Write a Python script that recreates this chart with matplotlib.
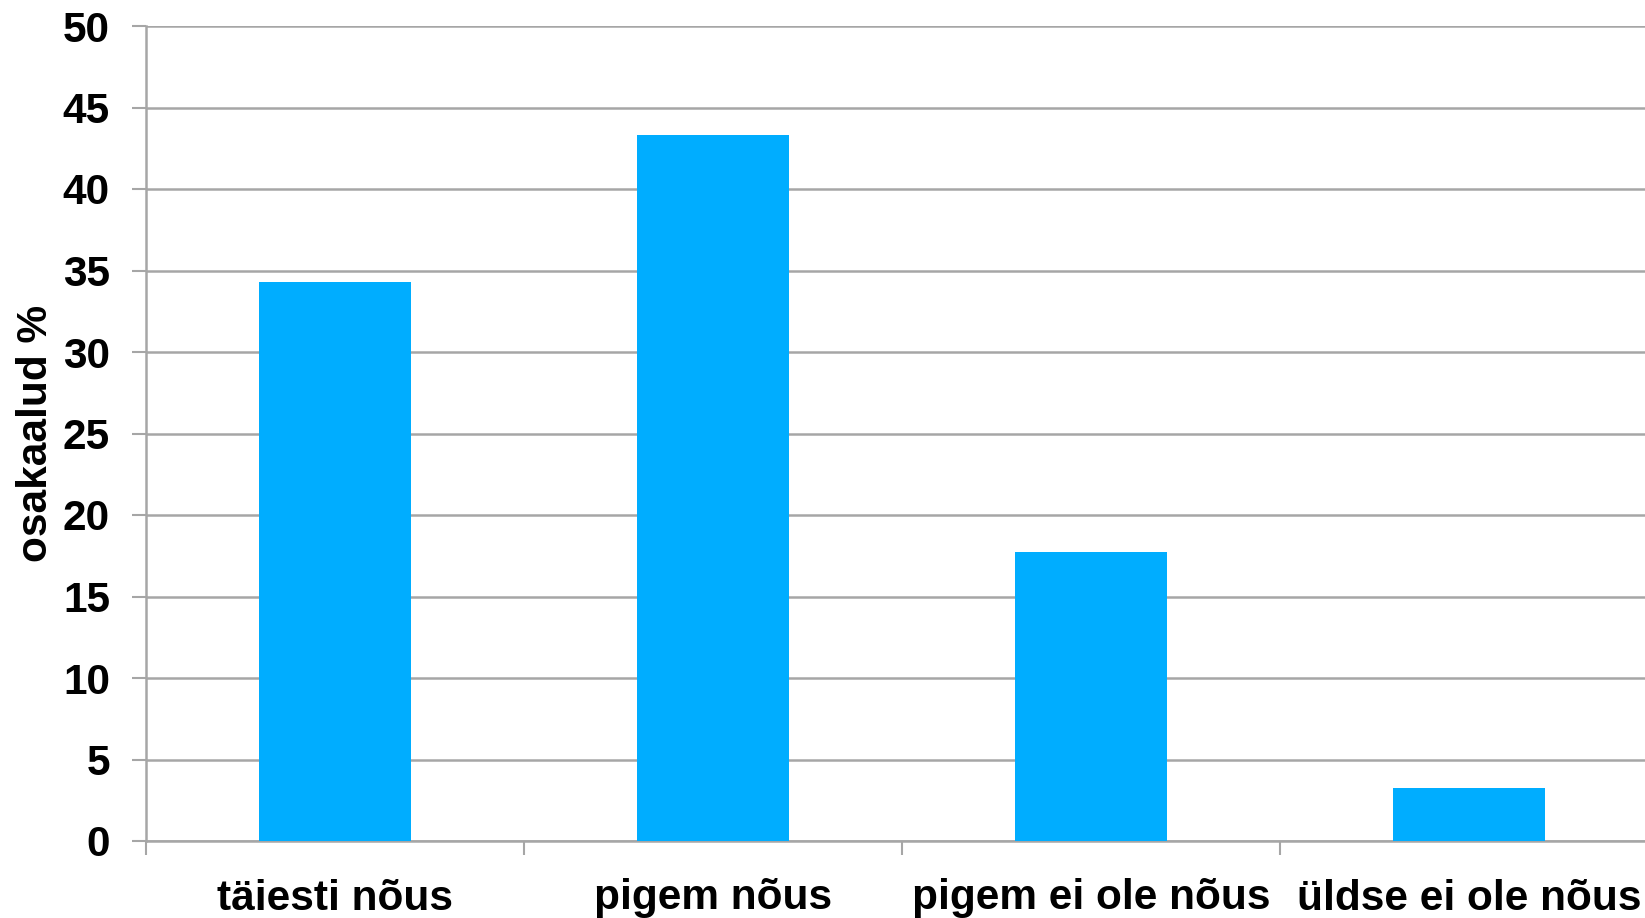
import matplotlib
matplotlib.use("Agg")
import matplotlib.pyplot as plt
import numpy as np

categories = ["täiesti nõus", "pigem nõus", "pigem ei ole nõus", "üldse ei ole nõus"]
values = [34.3, 43.3, 17.7, 3.25]
yticks = [0, 5, 10, 15, 20, 25, 30, 35, 40, 45, 50]
ylabel = "osakaalud %"

plt.rcParams['font.family'] = ['Liberation Sans', 'DejaVu Sans']
plt.rcParams['font.weight'] = 'bold'

fig = plt.figure(figsize=(16.45, 9.18), dpi=100)
ax = fig.add_axes([146/1645, 1-841/918, (1658-146)/1645, (841-26)/918])

grey = '#a6a6a6'
x = np.arange(len(categories))
ax.bar(x, values, width=0.4, color='#00ADFF', zorder=3)

ax.set_xlim(-0.5, len(categories) - 0.5)
ax.set_ylim(0, 50)
ax.set_yticks(yticks)
ax.set_yticklabels([str(t) for t in yticks], fontsize=30.5, fontweight='bold')
ax.yaxis.grid(True, color=grey, linewidth=1.8, zorder=0)
ax.set_axisbelow(True)

ax.set_xticks(np.arange(-0.5, len(categories), 1.0))
ax.set_xticklabels([])
ax.set_xticks(x, minor=True)
ax.set_xticklabels(categories, minor=True, fontsize=30.5, fontweight='bold')
ax.tick_params(axis='x', which='minor', length=0, pad=27)
ax.tick_params(axis='x', which='major', length=10, width=1.5, color=grey)
ax.tick_params(axis='y', length=10, width=1.5, color=grey, pad=16)

for s in ['top', 'right']:
    ax.spines[s].set_visible(False)
for s in ['left', 'bottom']:
    ax.spines[s].set_color(grey)
    ax.spines[s].set_linewidth(1.8)

ax.set_ylabel(ylabel, fontsize=30.5, fontweight='bold', labelpad=5)

fig.savefig("out.png", dpi=100)
